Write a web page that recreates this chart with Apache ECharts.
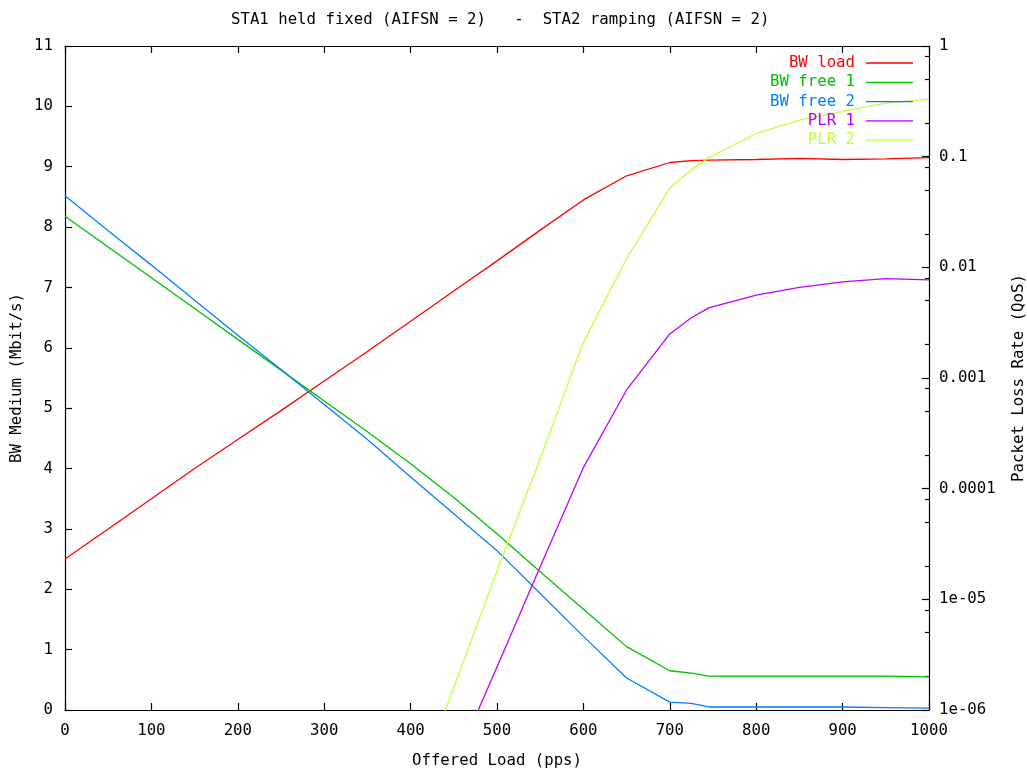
<!DOCTYPE html>
<html>
<head>
<meta charset="utf-8">
<script src="https://cdn.jsdelivr.net/npm/echarts@6/dist/echarts.min.js"></script>
<style>
html,body{margin:0;padding:0;background:#fff;}
#chart{width:1027px;height:772px;}
</style>
</head>
<body>
<div id="chart"></div>
<script>
// ---- data ----
const titleText = 'STA1 held fixed (AIFSN = 2)   -  STA2 ramping (AIFSN = 2)';
const xName = 'Offered Load (pps)';
const yName = 'BW Medium (Mbit/s)';
const y2Name = 'Packet Loss Rate (QoS)';
const seriesNames = ['BW load', 'BW free 1', 'BW free 2', 'PLR 1', 'PLR 2'];
const xValues = [0, 50, 100, 150, 200, 250, 300, 350, 400, 450, 500, 550, 600, 650, 700, 725, 745, 800, 850, 900, 950, 1000];
const bwLoad  = [2.50, 3.00, 3.50, 4.00, 4.48, 4.96, 5.45, 5.94, 6.44, 6.94, 7.44, 7.95, 8.45, 8.85, 9.07, 9.10, 9.11, 9.12, 9.14, 9.12, 9.13, 9.15];
const bwFree1 = [8.18, 7.67, 7.16, 6.65, 6.14, 5.63, 5.12, 4.61, 4.08, 3.52, 2.92, 2.29, 1.67, 1.05, 0.65, 0.61, 0.56, 0.56, 0.56, 0.56, 0.56, 0.55];
const bwFree2 = [8.52, 7.94, 7.37, 6.79, 6.21, 5.64, 5.06, 4.48, 3.86, 3.25, 2.64, 1.93, 1.22, 0.53, 0.13, 0.11, 0.05, 0.05, 0.05, 0.05, 0.04, 0.03];
const plr1 = [null, null, null, null, null, null, null, null, null, 3.1e-7, 2.45e-6, 1.97e-5, 1.55e-4, 7.8e-4, 2.5e-3, 3.5e-3, 4.3e-3, 5.6e-3, 6.6e-3, 7.4e-3, 7.9e-3, 7.7e-3];
const plr2 = [null, null, null, null, null, null, null, null, 1.4e-7, 1.6e-6, 1.8e-5, 1.86e-4, 2.1e-3, 0.012, 0.052, 0.076, 0.098, 0.162, 0.214, 0.257, 0.305, 0.331];
const y2TickLabels = ['1e-06', '1e-05', '0.0001', '0.001', '0.01', '0.1', '1'];
const y2MinorTicks = [2e-6, 5e-6, 8e-6, 2e-5, 5e-5, 8e-5, 2e-4, 5e-4, 8e-4, 2e-3, 5e-3, 8e-3, 0.02, 0.05, 0.08, 0.2, 0.5, 0.8];

// ---- styling ----
const colors = ['#ff0000', '#00c000', '#0080ff', '#c000ff', '#c0ff40'];
const FONT = 'DejaVu Sans Mono';
const FS = 15.7;

function pairs(arr) {
  const out = [];
  for (let i = 0; i < xValues.length; i++) {
    if (arr[i] !== null) out.push([xValues[i], arr[i]]);
  }
  return out;
}

const axisLine = { show: true, onZero: false, lineStyle: { color: '#000', width: 1.2 } };
const tick = (len) => ({ show: true, inside: true, length: len, lineStyle: { color: '#000', width: 1.2 } });
const lbl = { color: '#000', fontFamily: FONT, fontSize: FS };

const chart = echarts.init(document.getElementById('chart'), null, { renderer: 'canvas' });
const option = {
  animation: false,
  backgroundColor: '#fff',
  title: {
    text: titleText,
    left: 226, top: 7,
    textStyle: { color: '#000', fontFamily: FONT, fontSize: FS, fontWeight: 'normal' }
  },
  grid: { left: 65, right: 98, top: 46, bottom: 62, outerBoundsMode: 'none', containLabel: false },
  legend: {
    orient: 'vertical',
    right: 114, top: 55,
    align: 'right',
    itemWidth: 47, itemHeight: 14, itemGap: 3.3,
    padding: 0,
    icon: 'path://M0,0L47,0L47,1.3L0,1.3Z',
    data: seriesNames.map((n, i) => ({ name: n, textStyle: { color: colors[i] } })),
    textStyle: { fontFamily: FONT, fontSize: FS, lineHeight: 14, padding: [0, 6, 0, 0] }
  },
  xAxis: [
    {
      type: 'value', min: 0, max: 1000, interval: 100, position: 'bottom',
      axisLine: axisLine, axisTick: tick(7), splitLine: { show: false },
      axisLabel: Object.assign({ margin: 13, formatter: (v) => String(v) }, lbl),
      name: xName, nameLocation: 'middle', nameGap: 43,
      nameTextStyle: { color: '#000', fontFamily: FONT, fontSize: FS }
    },
    {
      type: 'value', min: 0, max: 1000, interval: 100, position: 'top',
      axisLine: axisLine, axisTick: tick(7), splitLine: { show: false },
      axisLabel: { show: false }
    }
  ],
  yAxis: [
    {
      type: 'value', min: 0, max: 11, interval: 1, position: 'left',
      axisLine: axisLine, axisTick: tick(7), splitLine: { show: false },
      axisLabel: Object.assign({ margin: 12 }, lbl),
      name: yName, nameLocation: 'middle', nameGap: 40, nameRotate: 90,
      nameMoveOverlap: false,
      nameTextStyle: { color: '#000', fontFamily: FONT, fontSize: FS }
    },
    {
      type: 'log', logBase: 10, min: 1e-6, max: 1, interval: 1, position: 'right',
      axisLine: axisLine, axisTick: tick(7), splitLine: { show: false },
      axisLabel: Object.assign({
        margin: 10,
        formatter: (v) => y2TickLabels[Math.round(Math.log10(v)) + 6]
      }, lbl),
      name: y2Name, nameLocation: 'middle', nameGap: 82, nameRotate: 90,
      nameTextStyle: { color: '#000', fontFamily: FONT, fontSize: FS }
    },
    {
      type: 'log', logBase: 10, min: 1e-6, max: 1, position: 'right',
      axisLine: { show: false, onZero: false },
      axisTick: Object.assign(tick(4), { customValues: y2MinorTicks }),
      axisLabel: { show: false }, splitLine: { show: false }
    }
  ],
  series: [
    { name: seriesNames[0], type: 'line', data: pairs(bwLoad), xAxisIndex: 0, yAxisIndex: 0 },
    { name: seriesNames[1], type: 'line', data: pairs(bwFree1), xAxisIndex: 0, yAxisIndex: 0 },
    { name: seriesNames[2], type: 'line', data: pairs(bwFree2), xAxisIndex: 0, yAxisIndex: 0 },
    { name: seriesNames[3], type: 'line', data: pairs(plr1), xAxisIndex: 0, yAxisIndex: 1 },
    { name: seriesNames[4], type: 'line', data: pairs(plr2), xAxisIndex: 0, yAxisIndex: 1 }
  ].map((s, i) => Object.assign(s, {
    symbol: 'none', showSymbol: false, clip: true,
    color: colors[i],
    lineStyle: { color: colors[i], width: 1.3 },
    emphasis: { disabled: true }
  }))
};
chart.setOption(option);
</script>
</body>
</html>
